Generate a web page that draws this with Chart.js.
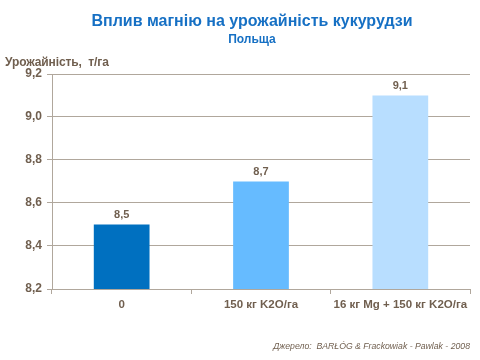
<!DOCTYPE html>
<html>
<head>
<meta charset="utf-8">
<script src="https://cdn.jsdelivr.net/npm/chart.js@4/dist/chart.umd.min.js"></script>
<style>
html,body{margin:0;padding:0;background:#fff;}
#wrap{position:relative;width:480px;height:360px;font-family:"Liberation Sans",Arial,sans-serif;}
canvas{position:absolute;left:0;top:0;}
.t{position:absolute;white-space:nowrap;}
#title{left:0;width:480px;top:12px;text-align:center;font-weight:bold;font-size:16px;color:#1670C4;padding-left:24px;box-sizing:border-box;}
#sub{left:0;width:480px;top:32px;text-align:center;font-weight:bold;font-size:12px;color:#1670C4;padding-left:24px;box-sizing:border-box;}
#ytitle{left:5px;top:55px;font-weight:bold;font-size:12px;color:#705F4F;letter-spacing:-0.1px;}
#src{right:10px;top:341px;font-style:italic;font-size:8.7px;color:#705F4F;}
</style>
</head>
<body>
<div id="wrap">
<canvas id="c" width="480" height="360"></canvas>
<div class="t" id="title">Вплив магнію на урожайність кукурудзи</div>
<div class="t" id="sub">Польща</div>
<div class="t" id="ytitle">Урожайність,&nbsp; т/га</div>
<div class="t" id="src">Джерело:&nbsp; BARŁÓG &amp; Frackowiak - Pawlak - 2008</div>
</div>
<script>
const categories = ["0", "150 кг K2O/га", "16 кг Mg + 150 кг K2O/га"];
const yields = [8.5, 8.7, 9.1];
const barColors = ["#0070C0", "#66BBFF", "#B8DEFF"];
const yTicks = [8.2, 8.4, 8.6, 8.8, 9.0, 9.2];

const textColor = "#705F4F";
const gridColor = "#B0A79C";
const fmt = v => Number(v).toFixed(1).replace('.', ',');

const labelPlugin = {
  id: 'barLabels',
  afterDatasetsDraw(chart) {
    const ctx = chart.ctx;
    const meta = chart.getDatasetMeta(0);
    ctx.save();
    ctx.font = 'bold 11px "Liberation Sans", Arial, sans-serif';
    ctx.fillStyle = textColor;
    ctx.textAlign = 'center';
    ctx.textBaseline = 'bottom';
    meta.data.forEach((el, i) => {
      ctx.fillText(fmt(yields[i]), el.x, el.y - 4);
    });
    ctx.restore();
  }
};

new Chart(document.getElementById('c'), {
  type: 'bar',
  data: {
    labels: categories,
    datasets: [{
      data: yields,
      backgroundColor: barColors,
      borderWidth: 0,
      barPercentage: 0.4,
      categoryPercentage: 1.0
    }]
  },
  options: {
    responsive: false,
    animation: false,
    devicePixelRatio: 1,
    layout: { padding: { left: 0, right: 10, top: 74, bottom: 0 } },
    plugins: { legend: { display: false }, tooltip: { enabled: false } },
    scales: {
      x: {
        afterFit(s) { s.height = 71; },
        grid: {
          offset: true,
          color: c => (c.index === categories.length ? gridColor : 'rgba(0,0,0,0)'),
          tickColor: gridColor,
          tickLength: 5,
          lineWidth: 1
        },
        border: { color: gridColor, width: 1 },
        ticks: {
          color: textColor,
          font: { family: '"Liberation Sans", Arial, sans-serif', size: 11.5, weight: 'bold' },
          padding: 4,
          maxRotation: 0,
          autoSkip: false
        }
      },
      y: {
        min: yTicks[0],
        max: yTicks[yTicks.length - 1],
        afterFit(s) { s.width = 52; },
        afterBuildTicks(s) { s.ticks = yTicks.map(v => ({ value: v })); },
        grid: { color: gridColor, tickColor: gridColor, tickLength: 5, lineWidth: 1 },
        border: { color: gridColor, width: 1 },
        ticks: {
          color: textColor,
          font: { family: '"Liberation Sans", Arial, sans-serif', size: 12, weight: 'bold' },
          padding: 5,
          callback: v => fmt(v)
        }
      }
    }
  },
  plugins: [labelPlugin]
});
</script>
</body>
</html>
